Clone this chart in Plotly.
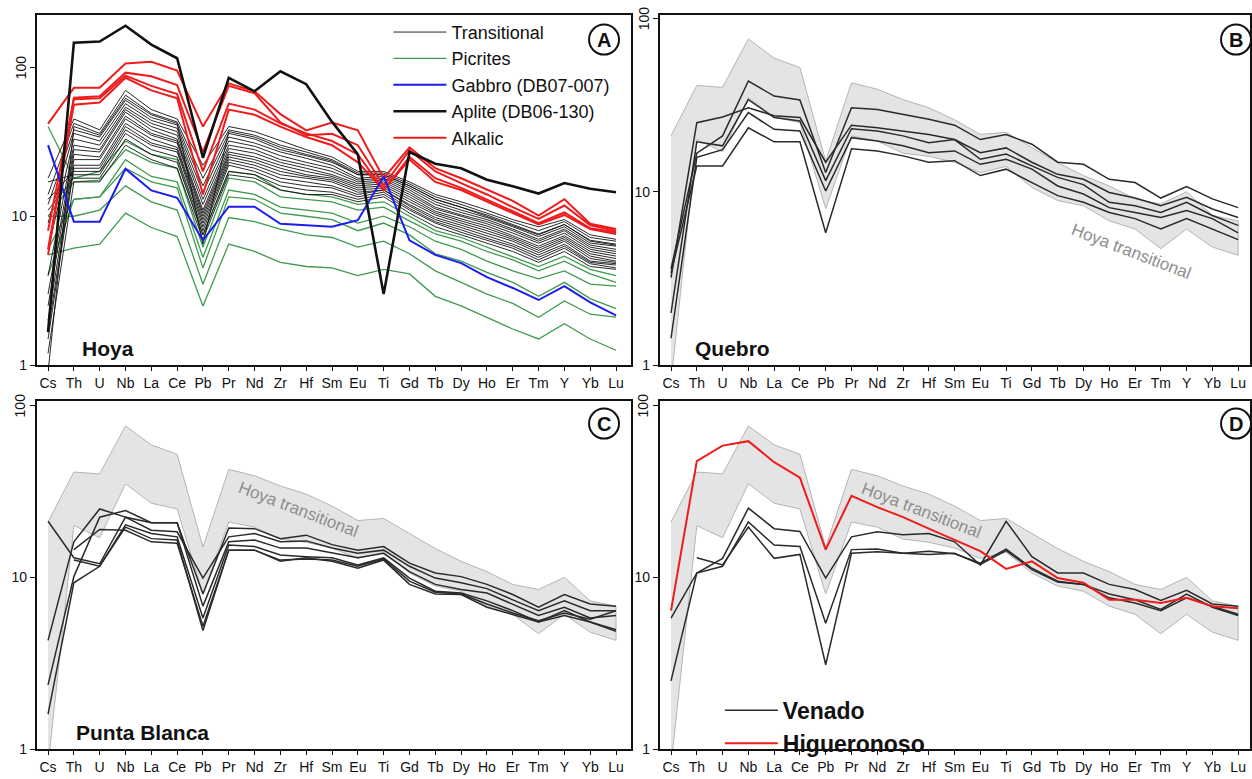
import plotly.graph_objects as go

W, H = 1252, 779

elements = ["Cs", "Th", "U", "Nb", "La", "Ce", "Pb", "Pr", "Nd", "Zr", "Hf", "Sm",
            "Eu", "Ti", "Gd", "Tb", "Dy", "Ho", "Er", "Tm", "Y", "Yb", "Lu"]

# --- Hoya (panel A) ---
hoya_transitional = [
    [18, 45, 38, 70, 52, 45, 22, 40, 37, 32, 28, 25, 20, 20, 17, 14, 12.5, 11, 9.5, 8.5, 9.5, 7.5, 7.0],
    [14, 42, 36, 65, 49, 43, 18, 38, 35, 30, 27, 24, 19.5, 19.5, 16.5, 13.5, 12, 10.5, 9.2, 8.0, 9.2, 7.2, 6.8],
    [12, 38, 34, 60, 46, 41, 16, 36, 33, 28, 25.5, 23, 19, 19, 16, 13, 11.5, 10.2, 8.8, 7.6, 8.8, 6.9, 6.5],
    [9, 36, 32, 57, 44, 39, 14.5, 34, 31, 27, 24.5, 22, 18, 18.5, 15.5, 12.5, 11, 9.8, 8.5, 7.3, 8.5, 6.6, 6.3],
    [6, 33, 30, 54, 42, 37, 13, 32, 29.5, 25.5, 23, 21, 17.5, 18, 15, 12, 10.6, 9.5, 8.2, 7.0, 8.2, 6.4, 6.0],
    [4, 30, 28, 52, 40, 35, 12, 30, 28, 24, 22, 20, 17, 17.5, 14.5, 11.5, 10.2, 9.2, 8.0, 6.8, 8.0, 6.2, 5.8],
    [3, 28, 27, 50, 38, 33, 11, 28.5, 26.5, 23, 21, 19, 16.5, 17, 14, 11.2, 10, 8.9, 7.7, 6.6, 7.7, 6.0, 5.6],
    [2.5, 26, 25, 47, 36, 32, 10.5, 27, 25, 22, 20, 18.5, 16, 16.5, 13.5, 10.8, 9.6, 8.6, 7.4, 6.3, 7.4, 5.8, 5.4],
    [2, 24, 24, 45, 35, 31, 10, 26, 24, 21, 19, 18, 15.5, 16, 13, 10.5, 9.3, 8.3, 7.2, 6.1, 7.2, 5.6, 5.2],
    [1.7, 22, 22, 42, 33, 29, 9.5, 25, 23, 20, 18.5, 17.5, 15, 15.5, 12.5, 10.2, 9.0, 8.0, 7.0, 5.9, 7.0, 5.4, 5.0],
    [1.5, 21, 21, 40, 31, 28, 9, 24, 22, 19, 18, 17, 14.5, 15, 12, 9.8, 8.7, 7.7, 6.8, 5.7, 6.8, 5.2, 4.9],
    [13, 20, 20, 38, 30, 27, 8.5, 23, 21, 18, 17, 16, 14, 15, 11.7, 9.5, 8.4, 7.4, 6.5, 5.5, 6.5, 5.0, 4.8],
    [17, 19, 19, 36, 28, 25, 8, 22, 20, 17, 16, 15.5, 13.5, 14.5, 11.3, 9.2, 8.1, 7.1, 6.3, 5.3, 6.3, 4.9, 4.7],
    [11, 18, 18, 33, 26, 23, 7.5, 20, 19, 16, 15, 14.5, 13, 14, 11, 9.0, 7.8, 6.9, 6.1, 5.1, 6.1, 4.8, 4.5],
    [1.2, 17, 17, 30, 24, 21, 7, 19, 18, 15, 14, 14, 12.5, 13.5, 10.5, 8.5, 7.5, 6.6, 5.8, 4.9, 5.8, 4.6, 4.4],
    [0.9, 40, 35, 62, 48, 42, 6.5, 37, 34, 29, 26, 23.5, 19, 19, 16, 13, 11.5, 10, 8.7, 7.5, 8.8, 6.8, 6.4],
]
hoya_picrites = [
    [40, 18, 20, 32, 26, 24, 7.5, 20, 19, 15, 14, 13.5, 12, 12.5, 10, 8, 7.2, 6.2, 5.4, 4.6, 5.4, 4.4, 4.0],
    [10, 17, 17.5, 28, 23, 21, 6.2, 18, 17, 13.5, 13, 12.5, 11, 11.5, 9.3, 7.6, 6.8, 5.8, 5.1, 4.3, 5.0, 4.1, 3.6],
    [6, 13, 13.5, 24, 18.5, 17, 5.3, 15, 14, 11.5, 11, 10.5, 9.0, 10, 8.5, 6.8, 6.0, 5.0, 4.3, 3.8, 4.3, 3.5, 3.4],
    [4, 13, 13.5, 21, 17, 15.5, 4.5, 13.5, 13, 10.5, 10, 9.5, 8, 9.0, 7.5, 5.6, 5.0, 4.2, 3.6, 2.9, 3.6, 2.8, 2.4],
    [10, 10, 11, 16, 12.5, 11, 3.5, 9.8, 9.2, 8.2, 7.5, 7.2, 6.2, 6.8, 5.6, 4.3, 3.6, 3.0, 2.6, 2.1, 2.7, 2.2, 2.1],
    [5.5, 6.1, 6.5, 10.5, 8.4, 7.3, 2.5, 6.5, 5.8, 4.9, 4.6, 4.5, 4.0, 4.4, 4.1, 2.9, 2.5, 2.1, 1.75, 1.5, 1.9, 1.5, 1.26],
]
hoya_gabbro = [30, 9.2, 9.2, 20.8, 14.9, 13.3, 6.9, 11.6, 11.6, 8.9, 8.7, 8.5, 9.4, 18.5,
               6.9, 5.5, 4.85, 3.9, 3.3, 2.74, 3.4, 2.64, 2.16]
hoya_aplite = [1.67, 146, 149, 190, 142, 115, 24.7, 85, 69, 94, 77, 43, 26, 3.0,
               27, 22.5, 21, 17.6, 15.9, 14.2, 16.7, 15.3, 14.5]
hoya_alkalic = [
    [41.7, 72.8, 73, 106, 109, 95, 40, 78, 69, 48.5, 37.7, 42.6, 37.7, 18, 29, 21, 18, 15.2, 12.7, 10.1, 13, 8.9, 8.2],
    [5.5, 62.5, 64, 92, 87, 76, 27, 75, 67, 42.6, 35, 35.8, 30, 16, 27.8, 20, 16.7, 14, 11.5, 9.6, 11.8, 8.7, 8.0],
    [8, 61, 62, 88, 75, 66, 20, 57, 52, 42, 36, 32, 26, 15, 25, 18, 15.5, 13, 10.8, 9.0, 10.6, 8.3, 7.8],
    [6, 56, 58, 85, 70, 62, 14, 52, 48, 40, 34, 30, 23, 15, 24, 17, 15, 12.5, 10.5, 8.8, 10.2, 8.2, 7.6],
]

# envelope of the Hoya transitional samples (grey field in B-D)
band_upper = [21, 41, 40, 76, 59, 52, 15, 42.5, 39, 34, 30.5, 26, 21.4, 22, 18, 14.7, 12.4, 10.8, 9.1, 8.5, 10, 7.3, 6.8]
band_lower = [0.8, 20, 17, 35, 27, 25, 8, 21, 19.6, 16.7, 16, 14.8, 12.9, 14, 10.6, 8.9, 8.3, 6.8, 6.1, 4.7, 6.1, 4.8, 4.3]

# --- Quebro (panel B) ---
quebro = [
    [3.6, 16.7, 21, 43.5, 35.6, 33.8, 12.9, 30.5, 29.8, 28.0, 26.2, 24.2, 20.0, 21.4, 18.8, 14.8, 14.4, 11.8, 11.3, 9.2, 10.7, 9.1, 8.1],
    [3.2, 25, 27, 30.5, 27.4, 26.8, 14.8, 24.2, 23.4, 22.4, 21.4, 20, 16.8, 17.9, 14.8, 12.6, 11.8, 9.9, 9.2, 8.3, 9.3, 7.95, 7.1],
    [2.0, 19.4, 18.4, 34, 26.8, 25.6, 11.6, 23.1, 22.4, 21, 19.2, 20, 15.4, 16.5, 14.1, 12.1, 11.0, 8.7, 8.3, 7.6, 8.7, 7.3, 6.4],
    [1.43, 15.8, 17.5, 28.6, 22.9, 22.4, 10.1, 20.5, 19.6, 18.4, 16.8, 17.2, 14.4, 15.4, 13.5, 10.8, 9.7, 8.1, 7.6, 7.1, 7.8, 7.0, 5.8],
    [3.4, 14.1, 14.1, 23.4, 19.4, 19.4, 5.8, 17.7, 17.2, 16.1, 14.8, 15.1, 12.4, 13.5, 11.3, 9.5, 8.7, 7.6, 7.0, 6.1, 7.0, 6.1, 5.3],
]

# --- Punta Blanca (panel C) ---
punta_blanca = [
    [21.2, 13, 12, 22.4, 20.8, 20.8, 8.0, 19.4, 19.2, 16.8, 17.6, 15.5, 14.4, 15.1, 12.1, 10.6, 10.1, 9.1, 7.95, 6.7, 7.95, 7.0, 6.8],
    [4.3, 16.1, 25, 22.4, 18.8, 18.4, 9.9, 17.2, 18.0, 16.1, 16.3, 14.8, 13.8, 14.4, 11.6, 9.9, 9.3, 8.6, 7.4, 6.4, 7.3, 6.4, 6.4],
    [2.37, 10.1, 22.4, 24.5, 20.8, 20.8, 6.8, 16.1, 16.5, 14.8, 14.8, 13.8, 13, 13.8, 10.8, 9.1, 8.5, 8.1, 7.0, 6.0, 6.7, 5.8, 6.0],
    [1.6, 9.3, 11.6, 20.2, 18, 17.2, 5.8, 15.4, 15.1, 13.5, 13.2, 13, 11.8, 13, 9.9, 8.3, 8.1, 7.3, 6.4, 5.5, 6.4, 5.5, 4.95],
    [None, 12.6, 11.6, 19.6, 16.8, 16.5, 4.9, 14.4, 14.4, 12.4, 13.0, 12.4, 11.3, 12.6, 9.1, 8.0, 7.95, 6.7, 6.1, 5.5, 6.0, 5.5, 4.85],
    [None, 14.5, 19, 18.8, 16.1, 15.8, 5.2, 14.4, 14.4, 12.6, 12.8, 12.6, 11.6, 12.8, 9.5, 8.2, 8.0, 7.0, 6.2, 5.6, 6.2, 5.7, 6.4],
]

# --- Venado / Higueronoso (panel D) ---
venado = [
    [5.8, 10.6, 12.9, 25.3, 19.2, 18.5, 9.9, 17.2, 18.4, 17.7, 18, 16.1, 11.8, 21.2, 13.2, 10.6, 10.6, 9.1, 8.5, 7.35, 8.4, 7.0, 6.8],
    [2.5, 10.6, 11.6, 21, 15.4, 15.1, 5.4, 14.5, 14.6, 13.8, 14.2, 13.7, 12.1, 14.6, 11.3, 9.5, 9.1, 8.0, 7.4, 6.5, 8.0, 6.7, 6.0],
    [None, 13.0, 11.8, 19.6, 12.9, 13.6, 3.1, 13.8, 14.1, 13.8, 13.6, 13.8, 11.9, 14.3, 11.1, 9.4, 9.1, 7.6, 7.1, 6.4, 7.6, 6.8, 6.1],
]
higueronoso = [6.4, 47.5, 58.4, 62, 46.8, 38, 14.5, 29.8, 25.6, 22.4, 19.2, 16.5, 14.2, 11.2,
               12.4, 9.9, 9.3, 7.4, 7.4, 7.1, 7.6, 6.8, 6.6]

FONT = "Arial, Liberation Sans, Helvetica, sans-serif"
GREEN = "#3f9a4f"
RED = "#ee1c1c"
BLUE = "#1c1cf0"
BAND_FILL = "#e4e4e4"
BAND_LINE = "#b4b4b4"
DARK = "#2a2a2a"

fig = go.Figure()


def add_line(y, ax, color, width, name=None, show=False, group=None, legend="legend", rank=None):
    fig.add_trace(go.Scatter(
        x=elements, y=y, mode="lines", xaxis="x" + ax, yaxis="y" + ax,
        line=dict(color=color, width=width), name=name, showlegend=show,
        legendgroup=group, legend=legend, legendrank=rank, hoverinfo="skip",
        connectgaps=False))


def add_band(ax):
    fig.add_trace(go.Scatter(
        x=elements + elements[::-1], y=band_upper + band_lower[::-1],
        xaxis="x" + ax, yaxis="y" + ax, mode="lines", fill="toself",
        fillcolor=BAND_FILL, line=dict(color=BAND_LINE, width=1),
        showlegend=False, hoverinfo="skip"))


# panel A
for i, s in enumerate(hoya_picrites):
    add_line(s, "", GREEN, 1.3, "Picrites", i == 0, "pic", rank=2)
for i, s in enumerate(hoya_transitional):
    add_line(s, "", "#111111", 0.9, "Transitional", i == 0, "tra", rank=1)
for i, s in enumerate(hoya_alkalic):
    add_line(s, "", RED, 2, "Alkalic", i == 0, "alk", rank=5)
add_line(hoya_gabbro, "", BLUE, 2, "Gabbro (DB07-007)", True, "gab", rank=3)
add_line(hoya_aplite, "", "#111111", 2.6, "Aplite (DB06-130)", True, "apl", rank=4)

# panel B
add_band("2")
for s in quebro:
    add_line(s, "2", DARK, 1.5)

# panel C
add_band("3")
for s in punta_blanca:
    add_line(s, "3", DARK, 1.5)

# panel D
add_band("4")
for i, s in enumerate(venado):
    add_line(s, "4", DARK, 1.5, "<b>Venado</b>", i == 0, "ven", "legend2", 1)
add_line(higueronoso, "4", RED, 2, "<b>Higueronoso</b>", True, "hig", "legend2", 2)


def px_x(x):
    return x / W


def px_y(y):
    return 1 - y / H


left_dom = [px_x(37), px_x(632)]
right_dom = [px_x(661), 1.0]
top_dom = [px_y(369), px_y(15)]
bot_dom = [px_y(757), px_y(405)]

xcommon = dict(type="category", showline=True, mirror=True, linewidth=2, linecolor="#111",
               ticks="outside", ticklen=4, tickwidth=1.2, tickcolor="#111",
               tickfont=dict(family=FONT, size=14, color="#111"), showgrid=False, zeroline=False)
ycommon = dict(type="log", showline=True, mirror=True, linewidth=2, linecolor="#111",
               ticks="outside", ticklen=5, tickwidth=1.2, tickcolor="#111",
               tickvals=[1, 10, 100], ticktext=["1", "10", ""],
               tickfont=dict(family=FONT, size=14, color="#111"), showgrid=False, zeroline=False)

fig.update_layout(
    width=W, height=H, margin=dict(l=0, r=0, t=0, b=0),
    paper_bgcolor="white", plot_bgcolor="white",
    xaxis=dict(xcommon, domain=left_dom, anchor="y", range=[-0.43, 22.58]),
    yaxis=dict(ycommon, domain=top_dom, anchor="x", range=[0, 2.352]),
    xaxis2=dict(xcommon, domain=right_dom, anchor="y2", range=[-0.43, 22.46]),
    yaxis2=dict(ycommon, domain=top_dom, anchor="x2", range=[0, 2.02]),
    xaxis3=dict(xcommon, domain=left_dom, anchor="y3", range=[-0.43, 22.58]),
    yaxis3=dict(ycommon, domain=bot_dom, anchor="x3", range=[0, 2.027]),
    xaxis4=dict(xcommon, domain=right_dom, anchor="y4", range=[-0.43, 22.46]),
    yaxis4=dict(ycommon, domain=bot_dom, anchor="x4", range=[0, 2.027]),
    legend=dict(x=px_x(389), y=px_y(14), xanchor="left", yanchor="top",
                bgcolor="rgba(0,0,0,0)", font=dict(family=FONT, size=18, color="#111"),
                tracegroupgap=0, traceorder="grouped", itemwidth=53),
    legend2=dict(x=px_x(721), y=px_y(696), xanchor="left", yanchor="top",
                 bgcolor="rgba(0,0,0,0)", font=dict(family=FONT, size=23, color="#111"),
                 tracegroupgap=0, traceorder="grouped", itemwidth=53),
)

annotations = []
shapes = []

# "100" tick labels (rotated) for each panel
for ax, xl in [("", 37), ("2", 661), ("3", 37), ("4", 661)]:
    annotations.append(dict(text="100", x=px_x(xl), xref="paper", y=2, yref="y" + ax,
                            xanchor="right", yanchor="middle", xshift=-6, textangle=-90,
                            showarrow=False, font=dict(family=FONT, size=14, color="#111")))

# panel names
for txt, x, y in [("Hoya", 80, 352), ("Quebro", 694, 352), ("Punta Blanca", 74, 740)]:
    annotations.append(dict(text="<b>%s</b>" % txt, x=px_x(x), y=px_y(y), xref="paper", yref="paper",
                            xanchor="left", yanchor="middle", showarrow=False,
                            font=dict(family=FONT, size=21, color="#111")))

# grey field labels
for x, y in [(1133, 254), (299, 515), (923, 516)]:
    annotations.append(dict(text="Hoya transitional", x=px_x(x), y=px_y(y), xref="paper", yref="paper",
                            xanchor="center", yanchor="middle", textangle=21, showarrow=False,
                            font=dict(family=FONT, size=17, color="#8e8e8e")))

# circled panel letters
for letter, cx, cy in [("A", 605, 40), ("B", 1238, 40), ("C", 605, 428), ("D", 1238, 428)]:
    shapes.append(dict(type="circle", xref="paper", yref="paper", xsizemode="pixel", ysizemode="pixel",
                       xanchor=px_x(cx), yanchor=px_y(cy), x0=-15, x1=15, y0=-15, y1=15,
                       line=dict(color="#111", width=2), fillcolor="white"))
    annotations.append(dict(text="<b>%s</b>" % letter, x=px_x(cx), y=px_y(cy), xref="paper", yref="paper",
                            xanchor="center", yanchor="middle", showarrow=False,
                            font=dict(family=FONT, size=20, color="#111")))

fig.update_layout(annotations=annotations, shapes=shapes)

fig.write_html("out.html", config={"displayModeBar": False},
               post_script="document.body.style.margin='0';")
